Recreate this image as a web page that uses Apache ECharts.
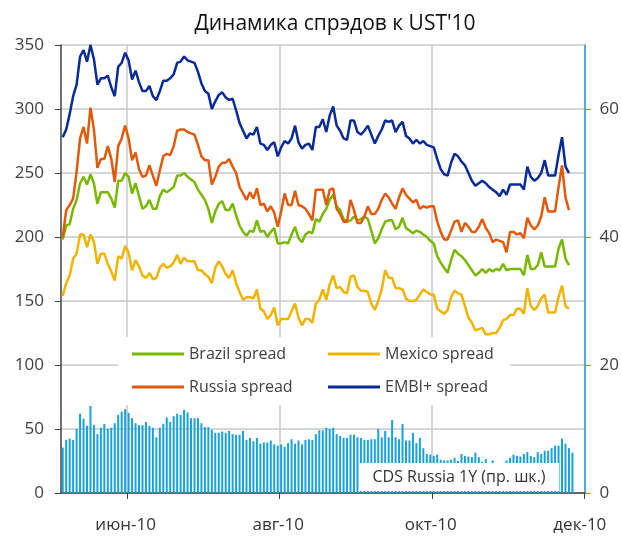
<!DOCTYPE html>
<html><head><meta charset="utf-8">
<script src="https://cdn.jsdelivr.net/npm/echarts@6/dist/echarts.min.js"></script>
<style>html,body{margin:0;padding:0;background:#fff}#c{width:622px;height:536px}</style>
</head><body><div id="c"></div><script>
// ---- data ----
const startDate = '2010-05-05';   // first business day on the axis
const dayCount = 151;             // business days on the axis (to 1 Dec 2010)
const monthNames = ['янв','фев','мар','апр','май','июн','июл','авг','сен','окт','ноя','дек'];
const tickLabels = ['июн-10','авг-10','окт-10','дек-10'];
const leftTicks = [0,50,100,150,200,250,300,350];
const rightTicks = [0,20,40,60];

const brazil = [198,209,210,222,229,242,247,241,249,242,226,235,235,235,230,223,244,244,250,247,
234,242,232,222,224,229,222,222,232,237,235,237,239,248,248,250,247,245,243,237,
233,229,222,211,220,226,228,221,221,226,217,209,204,201,205,204,213,204,205,200,
204,207,195,195,196,195,202,208,199,196,202,204,203,214,212,218,222,229,233,224,
221,214,212,213,216,213,214,216,214,205,195,199,206,212,213,213,206,208,215,207,
205,203,205,204,202,200,197,195,185,180,176,172,182,190,187,185,182,178,174,170,
172,175,172,175,173,175,174,179,174,175,175,175,175,170,186,175,175,178,188,177,
177,177,177,191,198,183,178];
const mexico = [154,164,170,183,187,202,202,192,202,196,179,187,187,179,173,166,185,183,193,188,
174,182,177,170,168,172,167,168,176,179,176,177,180,186,179,184,181,181,181,174,
174,171,169,164,176,181,177,171,168,174,164,157,151,153,153,152,159,144,142,136,
139,145,131,136,136,136,142,148,137,131,136,136,133,148,151,159,151,163,170,160,
161,157,156,169,170,161,158,158,157,148,143,150,159,174,168,168,160,160,159,152,
150,150,151,155,159,157,155,155,144,142,140,143,153,158,156,155,146,137,133,127,
128,129,124,124,125,125,129,135,136,139,139,144,144,140,160,146,143,146,152,155,
141,141,141,153,162,146,144];
const russia = [200,221,225,230,251,277,286,273,301,284,254,261,261,271,261,243,271,277,287,277,
260,266,253,247,248,256,248,240,252,263,265,264,271,283,284,284,282,281,280,272,
263,260,260,241,247,255,258,258,261,255,250,239,234,229,235,230,238,225,226,220,
224,219,208,220,234,225,225,236,225,224,222,218,213,237,237,237,225,237,238,222,
218,212,212,229,221,211,211,216,224,218,218,222,229,234,231,226,222,231,238,233,
230,227,229,222,224,223,224,224,212,204,198,198,205,212,213,204,211,208,204,204,
208,214,207,203,196,198,197,196,188,204,204,202,203,199,215,209,206,209,216,231,
220,220,220,239,256,231,221];
const embi = [278,284,296,310,319,341,346,337,350,339,319,324,324,326,317,310,333,336,344,338,
323,330,321,314,314,318,310,307,314,322,322,324,327,336,337,341,338,337,336,329,
320,314,312,300,306,311,313,309,307,308,299,289,283,277,281,280,286,273,272,268,
272,274,263,270,275,273,277,287,274,269,272,273,268,286,286,292,282,295,302,287,
283,277,276,291,291,282,280,283,287,280,273,279,284,291,290,291,282,287,290,279,
277,273,276,273,275,272,271,270,261,253,249,248,258,265,263,259,256,250,244,240,
242,244,242,239,237,235,232,237,233,241,241,241,241,237,255,247,244,246,250,260,
248,248,248,264,278,255,250];
const cdsRussia = [7.1,8.3,8.5,8.3,10.0,12.4,11.6,10.5,13.6,10.6,9.2,10.2,10.8,10.0,10.2,10.9,12.2,12.7,13.1,12.5,
11.7,10.9,10.6,10.6,11.1,10.5,10.2,8.7,10.2,10.8,11.8,11.1,12.0,12.4,12.2,13.0,12.6,11.7,11.7,11.7,
10.9,10.3,10.3,9.9,9.4,9.4,9.6,9.4,9.7,9.2,9.1,9.1,9.7,8.3,8.6,8.1,8.6,7.7,7.9,7.9,
8.2,7.6,7.4,7.6,7.2,7.8,8.4,7.7,8.2,7.6,8.3,8.4,8.3,9.2,9.8,9.8,10.2,10.0,10.2,9.2,
8.9,8.6,8.6,9.1,9.1,8.7,8.6,8.3,8.3,8.4,8.4,10.0,8.7,9.7,8.7,11.4,8.7,8.4,10.8,8.2,
8.2,9.4,7.8,8.6,7.0,6.1,6.0,5.8,6.0,5.2,5.1,5.1,5.2,5.5,5.0,6.1,5.8,5.7,5.6,6.3,
5.6,4.9,5.3,4.5,5.1,4.4,4.4,4.4,5.1,5.5,6.0,5.8,5.7,6.1,6.4,5.8,5.6,6.4,6.1,6.6,
6.6,7.0,7.4,7.4,8.5,7.7,7.0,6.3];

// ---- build axis categories (business days) ----
const days = [];
const cur = new Date(startDate + 'T00:00:00Z');
while (days.length < dayCount) {
  const w = cur.getUTCDay();
  if (w !== 0 && w !== 6) days.push(new Date(cur.getTime()));
  cur.setUTCDate(cur.getUTCDate() + 1);
}
const labelOf = x => monthNames[x.getUTCMonth()] + '-' + String(x.getUTCFullYear()).slice(2);
const cats = days.map(x => x.toISOString().slice(0, 10));
const tickIdx = tickLabels.map(t => days.findIndex(x => labelOf(x) === t));

const FONT = 'Open Sans';
const colors = {brazil:'#78b800', mexico:'#f0b400', russia:'#e05a0a', embi:'#0a2a96', cds:'#17a2dc'};

const chart = echarts.init(document.getElementById('c'));
const legendCommon = {
  orient:'horizontal', padding:0, icon:'rect', itemWidth:52, itemHeight:3,
  selectedMode:false, textStyle:{fontSize:16, color:'#404040', fontFamily:FONT}
};
chart.setOption({
  animation:false,
  backgroundColor:'#fff',
  textStyle:{fontFamily:FONT},
  grid:{left:61, right:32, top:45, bottom:43},
  legend:[
    Object.assign({data:['Brazil spread'], left:132, top:346}, legendCommon),
    Object.assign({data:['Mexico spread'], left:328, top:346}, legendCommon),
    Object.assign({data:['Russia spread'], left:132, top:379}, legendCommon),
    Object.assign({data:['EMBI+ spread'], left:328, top:379}, legendCommon)
  ],
  xAxis:{
    type:'category', data:cats, boundaryGap:true,
    axisLine:{lineStyle:{color:'#404040', width:1.5}},
    axisTick:{show:true, length:6, lineStyle:{color:'#404040'},
      interval:(i) => tickIdx.includes(i) && i < dayCount - 1},
    axisLabel:{interval:(i) => tickIdx.includes(i), fontSize:17, color:'#333',
      margin:24, padding:[0,6,0,0],
      formatter:(v) => labelOf(new Date(v + 'T00:00:00Z'))},
    splitLine:{show:true, interval:(i) => tickIdx.includes(i) && i < dayCount - 1,
      lineStyle:{color:'#c8c8c8', width:1.5}}
  },
  yAxis:[
    {type:'value', min:leftTicks[0], max:leftTicks[leftTicks.length-1], interval:50,
     axisLine:{show:true, lineStyle:{color:'#404040', width:1.5}},
     axisTick:{show:true, length:6, lineStyle:{color:'#404040'}},
     axisLabel:{fontSize:17, color:'#404040', margin:17},
     splitLine:{show:true, lineStyle:{color:'#c8c8c8', width:1.5}}},
    {type:'value', min:0, max:70, interval:10, position:'right',
     axisLine:{show:true, lineStyle:{color:'#1aa3dd', width:1.5}},
     axisTick:{show:true, length:6, customValues:rightTicks, lineStyle:{color:'#1aa3dd'}},
     axisLabel:{fontSize:17, color:'#404040', margin:15, customValues:rightTicks},
     splitLine:{show:false}}
  ],
  series:[
    {name:'CDS Russia 1Y', type:'bar', yAxisIndex:1, data:cdsRussia, barWidth:2,
     itemStyle:{color:colors.cds}, z:1},
    {name:'Brazil spread', type:'line', data:brazil, showSymbol:false, symbol:'none',
     lineStyle:{color:colors.brazil, width:2.5}, itemStyle:{color:colors.brazil}, z:3},
    {name:'Mexico spread', type:'line', data:mexico, showSymbol:false, symbol:'none',
     lineStyle:{color:colors.mexico, width:2.5}, itemStyle:{color:colors.mexico}, z:3},
    {name:'Russia spread', type:'line', data:russia, showSymbol:false, symbol:'none',
     lineStyle:{color:colors.russia, width:2.5}, itemStyle:{color:colors.russia}, z:3},
    {name:'EMBI+ spread', type:'line', data:embi, showSymbol:false, symbol:'none',
     lineStyle:{color:colors.embi, width:2.5}, itemStyle:{color:colors.embi}, z:3}
  ],
  graphic:[
    {type:'text', z:10, x:335, y:24,
     style:{text:"Динамика спрэдов к UST'10", fontSize:21, fill:'#111', fontFamily:FONT,
            align:'center', verticalAlign:'middle'}},
    {type:'rect', z:1, shape:{x:118, y:337, width:392, height:68}, style:{fill:'#fff'}},
    {type:'group', z:50, children:[
      {type:'rect', z:50, shape:{x:359, y:463, width:200, height:28}, style:{fill:'#fff'}},
      {type:'text', z:51, x:459, y:477,
       style:{text:'CDS Russia 1Y (пр. шк.)', fontSize:16, fill:'#333', fontFamily:FONT,
              align:'center', verticalAlign:'middle'}}
    ]}
  ]
});
</script></body></html>
